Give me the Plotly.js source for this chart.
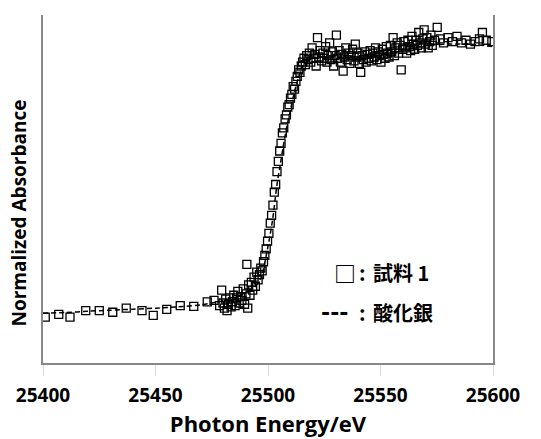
<!DOCTYPE html>
<html>
<head>
<meta charset="utf-8">
<script src="https://cdn.plot.ly/plotly-3.0.1.min.js"></script>
<style>html,body{margin:0;padding:0;background:#fff;}#chart{width:541px;height:439px;}</style>
</head>
<body>
<div id="chart"></div>
<script>
// Sample 1 (試料 1): photon energy (eV) and normalized absorbance
const sampleEnergy = [
  25401,25407,25412,25419,25425,25431,25437,25444,25449,25455,25461,25467,25473,
  25476.0,25478.5,25479.4,25480.0,25480.6,25481.2,25481.8,25482.4,25483.0,25483.6,25484.2,25484.8,
  25485.4,25486.0,25486.6,25487.2,25487.8,25488.4,25489.0,25489.6,25490.2,25490.6,25491.0,25491.4,
  25492.0,25492.6,25493.2,25493.8,25494.4,25495.0,25495.6,25496.2,25496.8,25497.4,25498.0,25498.6,
  25499.2,25499.8,25500.4,25501.0,25501.6,25502.2,25502.8,25503.4,25504.0,25504.6,25505.2,25505.8,
  25506.4,25507.0,25507.6,25508.2,25508.8,25509.4,25510.0,25510.6,25511.2,25511.8,25512.4,25513.0,
  25513.6,25514.2,25514.8,25515.4,25516.0,25516.6,25517.2,25517.8,
  25518.4,25519.0,25519.6,25520.2,25520.8,25521.4,25522.0,25522.6,25523.2,25523.8,25524.4,25525.0,
  25525.6,25526.2,25526.8,25527.4,25528.0,25528.6,25529.2,25529.8,25530.4,25531.0,25531.6,25532.2,
  25532.8,25533.4,25534.0,25534.6,25535.2,25535.8,25536.4,25537.0,25537.6,25538.2,25538.8,25539.4,
  25540.0,25540.6,25541.2,25541.8,25542.4,25543.0,25543.6,25544.2,25544.8,25545.4,25546.0,25546.6,
  25547.2,25547.8,25548.4,25549.0,25549.6,25550.2,25550.8,25551.4,25552.0,25552.6,25553.2,25553.8,
  25554.4,25555.0,25555.6,25556.2,25556.8,25557.4,25558.0,25558.6,25559.2,25559.8,25560.4,25561.0,
  25561.6,25562.2,25562.8,25563.4,25564.0,25564.6,25565.2,25565.8,25566.4,25567.0,25567.6,25568.2,
  25568.8,25569.4,25570.0,25570.6,25571.2,25571.8,25572.4,25573.0,25574.0,25575.2,25576.5,25578.0,
  25580.0,25582.0,25584.0,25586.0,25588.0,25590.0,25592.0,25594.0,25595.3,25597.0,25599.5
];
const sampleAbs = [
  -0.015,-0.004,-0.015,0.010,0.010,0.004,0.020,0.010,-0.008,0.015,0.030,0.027,0.044,
  0.050,0.030,0.090,0.040,0.020,0.055,0.010,0.035,0.060,0.025,0.045,0.070,
  0.030,0.060,0.085,0.040,0.065,0.050,0.095,0.035,0.075,0.190,0.020,0.110,
  0.070,0.120,0.090,0.140,0.105,0.160,0.130,0.150,0.175,0.165,0.200,0.225,
  0.250,0.280,0.310,0.350,0.380,0.420,0.470,0.500,0.550,0.590,0.630,0.660,
  0.700,0.720,0.755,0.770,0.800,0.810,0.835,0.850,0.880,0.870,0.900,0.920,
  0.945,0.935,0.960,0.975,0.990,0.965,1.000,0.985,
  1.010,0.975,1.030,0.990,1.005,0.960,1.070,0.995,1.020,0.980,1.010,0.990,
  1.035,0.975,1.000,1.050,0.985,1.015,0.960,1.000,1.080,0.990,1.020,0.975,
  1.005,0.940,0.995,1.030,0.985,1.010,0.970,1.000,1.025,0.980,1.045,0.995,
  1.010,0.970,0.935,1.000,0.985,1.015,0.975,1.005,0.990,1.020,0.980,1.010,
  0.995,1.030,0.985,1.015,1.000,0.975,1.025,1.005,0.990,1.035,1.010,0.995,
  1.040,1.015,1.070,1.000,1.030,1.050,1.010,1.040,0.945,1.025,1.055,1.030,
  1.010,1.060,1.035,1.020,1.075,1.045,1.025,1.060,1.040,1.090,1.050,1.030,
  1.065,1.100,1.045,1.070,1.030,1.055,1.080,1.040,1.060,1.110,1.065,1.050,
  1.070,1.055,1.075,1.050,1.060,1.045,1.055,1.065,1.090,1.060,1.055
];

// Reference: silver oxide (酸化銀)
const refEnergy = [25400,25410,25420,25430,25440,25450,25460,25470,25478,25485,25490,25494,25497,
  25500,25502,25504,25505.5,25507,25508.5,25510,25511.5,25513,25515,25517,25520,25525,25530,
  25540,25550,25555,25560,25565,25570,25580,25590,25600];
const refAbs = [0.000,0.003,0.008,0.012,0.016,0.020,0.025,0.032,0.045,0.060,0.080,0.100,0.140,
  0.260,0.360,0.500,0.580,0.660,0.730,0.790,0.850,0.900,0.950,0.975,0.990,0.995,0.995,
  0.990,0.995,1.005,1.020,1.030,1.040,1.045,1.045,1.035];

const xTickVals = [25400,25450,25500,25550,25600];
const xTickText = ['25400','25450','25500','25550','25600'];
const xTitle = 'Photon Energy/eV';
const yTitle = 'Normalized Absorbance';
const legendSymbols = ['□', '---'];
const legendNames = ['試料 1', '酸化銀'];

const traces = [
  {x: sampleEnergy, y: sampleAbs, type: 'scatter', mode: 'markers', name: legendNames[0],
   marker: {symbol: 'square-open', size: 8, color: '#000', line: {width: 1.3, color: '#000'}},
   showlegend: false},
  {x: refEnergy, y: refAbs, type: 'scatter', mode: 'lines', name: legendNames[1],
   line: {color: '#000', width: 1.5, dash: '5px,3px', shape: 'spline', smoothing: 0.6},
   showlegend: false}
];

const boldFont = {family: 'Open Sans, DejaVu Sans, sans-serif', weight: 700, color: '#000'};
const cjkFont = {family: 'Noto Sans CJK JP, sans-serif', size: 20, weight: 700, color: '#000'};
const symFonts = [
  {family: 'Noto Sans CJK JP, sans-serif', size: 22, weight: 700, color: '#000'},
  {family: 'DejaVu Sans, sans-serif', size: 22, weight: 700, color: '#000'}
];

// legend rows (paper coordinates)
const rowY = [0.261, 0.144];
const symX = [0.642, 0.613];
const colonX = 0.711;
const nameX = 0.728;

const annotations = [
  {text: yTitle, textangle: -90, xref: 'paper', yref: 'paper', x: -0.053, y: 0.43,
   xanchor: 'center', yanchor: 'middle', showarrow: false,
   font: Object.assign({size: 19}, boldFont)}
];
for (let i = 0; i < 2; i++) {
  annotations.push({text: legendSymbols[i], xref: 'paper', yref: 'paper', x: symX[i], y: rowY[i],
    xanchor: 'left', yanchor: 'middle', showarrow: false, font: symFonts[i]});
  annotations.push({text: ':', xref: 'paper', yref: 'paper', x: colonX, y: rowY[i],
    xanchor: 'center', yanchor: 'middle', showarrow: false, font: cjkFont});
  annotations.push({text: legendNames[i], xref: 'paper', yref: 'paper', x: nameX, y: rowY[i],
    xanchor: 'left', yanchor: 'middle', showarrow: false, font: cjkFont});
}

const layout = {
  width: 541, height: 439,
  margin: {l: 43, r: 48, t: 15, b: 76},
  paper_bgcolor: '#fff', plot_bgcolor: '#fff',
  showlegend: false,
  xaxis: {
    range: [25400, 25600], tickvals: xTickVals, ticktext: xTickText,
    ticks: 'outside', ticklen: 11, tickcolor: '#d9d9d9', tickwidth: 1,
    ticklabelstandoff: 3,
    showline: true, linecolor: '#888', linewidth: 2, mirror: false,
    showgrid: false, zeroline: false,
    tickfont: Object.assign({size: 19}, boldFont),
    title: {text: xTitle, font: Object.assign({size: 22}, boldFont), standoff: 8},
    automargin: false
  },
  yaxis: {
    range: [-0.193, 1.158],
    showticklabels: false, ticks: '',
    showline: true, linecolor: '#888', linewidth: 2, mirror: true,
    showgrid: false, zeroline: false,
    automargin: false
  },
  annotations: annotations
};

Plotly.newPlot('chart', traces, layout, {staticPlot: true, displayModeBar: false});
</script>
</body>
</html>
